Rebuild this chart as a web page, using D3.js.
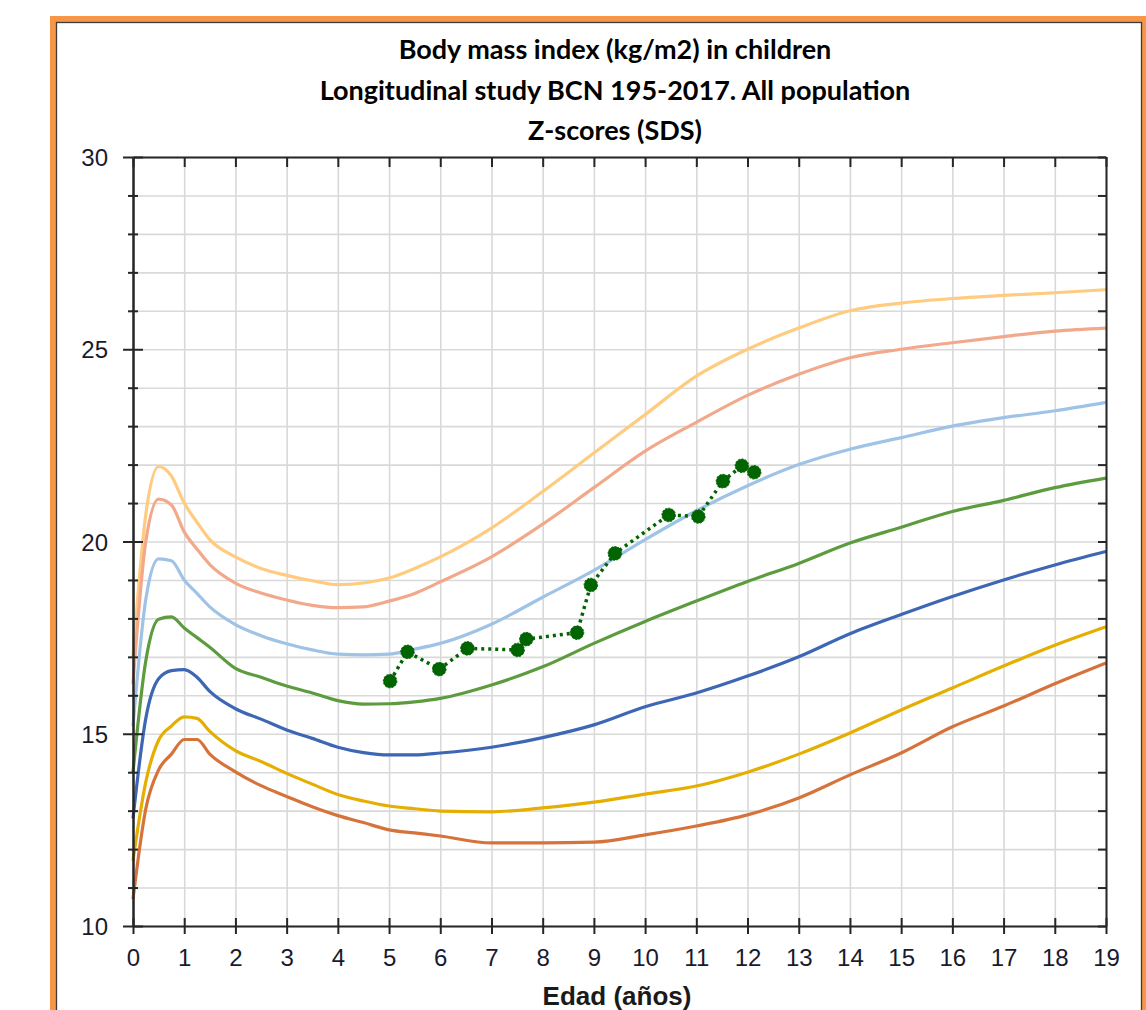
<!DOCTYPE html>
<html>
<head>
<meta charset="utf-8">
<script src="https://cdnjs.cloudflare.com/ajax/libs/d3/7.8.5/d3.min.js"></script>
<style>
  body { margin: 0; background: #fff; }
  svg { display: block; }
</style>
</head>
<body>
<div id="chartContainer"></div>
<script>
// chart data
const ages = [0, 0.25, 0.5, 0.75, 1, 1.25, 1.5, 2, 2.5, 3, 3.5, 4, 4.5, 5, 5.5, 6, 7, 8, 9, 10, 11, 12, 13, 14, 15, 16, 17, 18, 19];
const sdsPlus3 = [17.0, 20.7, 21.95, 21.7, 21.0, 20.5, 20.05, 19.6, 19.3, 19.12, 18.98, 18.88, 18.92, 19.05, 19.3, 19.6, 20.35, 21.3, 22.3, 23.3, 24.3, 25.0, 25.55, 26.0, 26.2, 26.32, 26.4, 26.47, 26.55];
const sdsPlus2 = [16.3, 20.0, 21.1, 20.95, 20.25, 19.8, 19.4, 18.92, 18.66, 18.48, 18.34, 18.28, 18.3, 18.45, 18.65, 18.95, 19.6, 20.45, 21.4, 22.35, 23.1, 23.8, 24.35, 24.78, 25.0, 25.17, 25.33, 25.47, 25.55];
const sdsPlus1 = [15.2, 18.5, 19.55, 19.5, 19.0, 18.65, 18.3, 17.84, 17.55, 17.34, 17.18, 17.07, 17.05, 17.07, 17.2, 17.35, 17.85, 18.55, 19.25, 20.05, 20.8, 21.45, 22.0, 22.4, 22.7, 23.0, 23.22, 23.4, 23.62];
const sdsZero = [14.0, 16.9, 17.98, 18.04, 17.75, 17.5, 17.25, 16.7, 16.47, 16.24, 16.06, 15.86, 15.77, 15.78, 15.83, 15.92, 16.27, 16.74, 17.35, 17.92, 18.45, 18.96, 19.43, 19.96, 20.37, 20.78, 21.07, 21.4, 21.65];
const sdsMinus1 = [12.8, 15.4, 16.43, 16.64, 16.67, 16.47, 16.1, 15.65, 15.38, 15.1, 14.88, 14.65, 14.51, 14.45, 14.45, 14.5, 14.65, 14.9, 15.23, 15.7, 16.06, 16.5, 17.0, 17.6, 18.1, 18.57, 19.0, 19.39, 19.74];
const sdsMinus2 = [11.7, 13.75, 14.83, 15.2, 15.44, 15.4, 15.06, 14.56, 14.28, 13.97, 13.69, 13.42, 13.25, 13.12, 13.05, 12.99, 12.97, 13.07, 13.22, 13.43, 13.64, 14.0, 14.47, 15.02, 15.62, 16.19, 16.76, 17.3, 17.78];
const sdsMinus3 = [10.7, 13.05, 14.06, 14.47, 14.85, 14.85, 14.47, 14.01, 13.65, 13.37, 13.1, 12.87, 12.69, 12.5, 12.42, 12.34, 12.16, 12.16, 12.18, 12.37, 12.6, 12.89, 13.33, 13.93, 14.5, 15.18, 15.72, 16.3, 16.84];

// the child's measurements
const childAges = [5.02, 5.36, 5.98, 6.53, 7.51, 7.68, 8.67, 8.94, 9.41, 10.46, 11.04, 11.52, 11.89, 12.13];
const childBmi = [16.37, 17.13, 16.68, 17.22, 17.18, 17.46, 17.63, 18.87, 19.69, 20.69, 20.65, 21.57, 21.97, 21.8];

const xTicks = d3.range(0, 20);
const yMajorTicks = [10, 15, 20, 25, 30];
const titleLines = ["Body mass index (kg/m2) in children", "Longitudinal study BCN 195-2017. All population", "Z-scores (SDS)"];
const xTitle = "Edad (años)";

// line colours, top curve first
const curves = [
  { values: sdsPlus3, color: "#FFCB7F" },
  { values: sdsPlus2, color: "#F2A88A" },
  { values: sdsPlus1, color: "#9FC3E7" },
  { values: sdsZero, color: "#5C9B3E" },
  { values: sdsMinus1, color: "#3D66B4" },
  { values: sdsMinus2, color: "#E5AE02" },
  { values: sdsMinus3, color: "#D6733A" }
];

const W = 1146, H = 1010;
const plot = { left: 133, right: 1106, top: 157, bottom: 926 };
const axisColor = "#262626";

const svg = d3.select("#chartContainer").append("svg").attr("width", W).attr("height", H);

// frame: orange border with a thin dark line inside
svg.append("rect").attr("x", 53).attr("y", 19).attr("width", 1092).attr("height", 1100)
  .attr("fill", "none").attr("stroke", "#F79646").attr("stroke-width", 6);
svg.append("rect").attr("x", 56.5).attr("y", 22.5).attr("width", 1085).attr("height", 1100)
  .attr("fill", "none").attr("stroke", "#3c3c3c").attr("stroke-width", 1.3);

const x = d3.scaleLinear().domain([0, 19]).range([plot.left, plot.right]);
const y = d3.scaleLinear().domain([10, 30]).range([plot.bottom, plot.top]);

// grid
const grid = svg.append("g");
grid.append("g").attr("transform", "translate(0," + plot.bottom + ")")
  .call(d3.axisBottom(x).tickValues(xTicks).tickSize(-(plot.bottom - plot.top)).tickFormat(""));
grid.append("g").attr("transform", "translate(" + plot.left + ",0)")
  .call(d3.axisLeft(y).tickValues(d3.range(10, 31)).tickSize(-(plot.right - plot.left)).tickFormat(""));
grid.selectAll(".domain").remove();
grid.selectAll("line").attr("stroke", "#d9d9d9").attr("stroke-width", 1.6);

// curves
const line = d3.line().x((d) => x(d[0])).y((d) => y(d[1])).curve(d3.curveMonotoneX);
svg.append("g").selectAll("path").data(curves).enter().append("path")
  .attr("d", (c) => line(ages.map((a, i) => [a, c.values[i]])))
  .attr("fill", "none").attr("stroke", (c) => c.color).attr("stroke-width", 3.2)
  .attr("stroke-linejoin", "round");

// axes
const styleAxis = (g) => {
  g.selectAll(".domain").attr("stroke", axisColor).attr("stroke-width", 2);
  g.selectAll(".tick line").attr("stroke", axisColor).attr("stroke-width", 2);
  g.selectAll("text").attr("fill", "#1a1a2e").style("font-family", "Liberation Sans, Arial, sans-serif").style("font-size", "24px");
};

// top and right: ticks only
svg.append("g").attr("transform", "translate(0," + plot.top + ")")
  .call(d3.axisBottom(x).tickValues(xTicks).tickSizeInner(10).tickSizeOuter(0).tickFormat(""))
  .call(styleAxis);
svg.append("g").attr("transform", "translate(" + plot.right + ",0)")
  .call(d3.axisLeft(y).tickValues(d3.range(10, 31)).tickSizeInner(8).tickSizeOuter(0).tickFormat(""))
  .call(styleAxis);

// left: minor and major ticks crossing the line
svg.append("g").attr("transform", "translate(" + plot.left + ",0)")
  .call(d3.axisLeft(y).tickValues(d3.range(10, 31).filter((v) => v % 5 !== 0)).tickSizeInner(5).tickSizeOuter(0).tickFormat(""))
  .call(styleAxis)
  .call((g) => g.selectAll(".tick line").attr("x2", -5).attr("x1", 5));
svg.append("g").attr("transform", "translate(" + plot.left + ",0)")
  .call(d3.axisLeft(y).tickValues(yMajorTicks).tickSizeInner(10).tickSizeOuter(0).tickPadding(15).tickFormat(d3.format("d")))
  .call(styleAxis)
  .call((g) => g.selectAll(".tick line").attr("x2", -10).attr("x1", 10))
  .call((g) => g.selectAll("text").attr("dy", "0.36em"));

// bottom with labels
svg.append("g").attr("transform", "translate(0," + plot.bottom + ")")
  .call(d3.axisBottom(x).tickValues(xTicks).tickSizeInner(8).tickSizeOuter(0).tickPadding(0).tickFormat(d3.format("d")))
  .call(styleAxis)
  .call((g) => g.selectAll(".tick line").attr("y1", -8).attr("y2", 8))
  .call((g) => g.selectAll("text").attr("y", 40).attr("dy", "0"));

// child's measurements: dotted line and points
const childPts = childAges.map((a, i) => [a, childBmi[i]]);
svg.append("path")
  .attr("d", d3.line().x((d) => x(d[0])).y((d) => y(d[1]))(childPts))
  .attr("fill", "none").attr("stroke", "#006400").attr("stroke-width", 3.5)
  .attr("stroke-dasharray", "3,4");
svg.append("g").selectAll("circle").data(childPts).enter().append("circle")
  .attr("cx", (d) => x(d[0])).attr("cy", (d) => y(d[1])).attr("r", 6.8)
  .attr("fill", "#006400").attr("stroke", "#006400").attr("stroke-width", 1)
  .attr("stroke-dasharray", "2,1.5");

// titles
svg.append("g").selectAll("text").data(titleLines).enter().append("text")
  .attr("x", 615).attr("y", (d, i) => 59 + i * 40.5)
  .attr("text-anchor", "middle")
  .style("font-family", "Lato, sans-serif").style("font-weight", "bold").style("font-size", "27px")
  .attr("fill", "#000")
  .text((d) => d);

svg.append("text")
  .attr("x", 617).attr("y", 1005)
  .attr("text-anchor", "middle")
  .style("font-family", "Liberation Sans, Arial, sans-serif").style("font-weight", "bold").style("font-size", "26px")
  .attr("fill", "#1a1a1a")
  .text(xTitle);
</script>
</body>
</html>
